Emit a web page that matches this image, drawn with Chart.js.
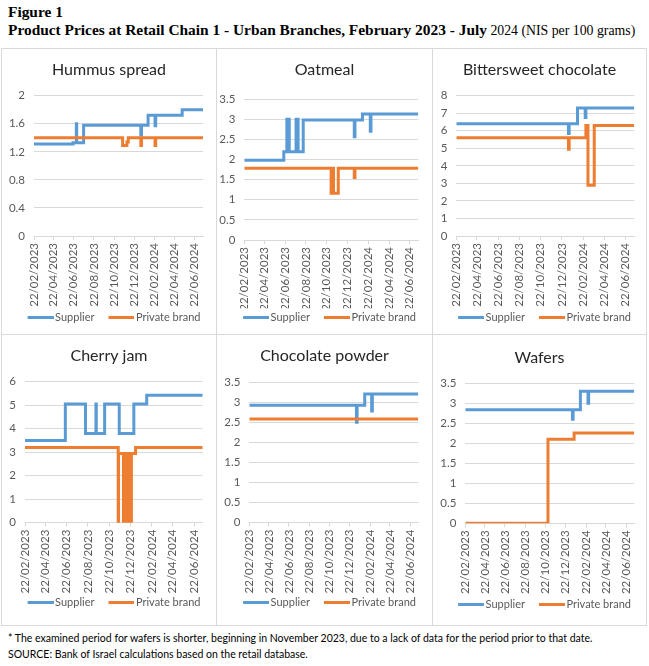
<!DOCTYPE html>
<html>
<head>
<meta charset="utf-8">
<script src="https://cdn.jsdelivr.net/npm/chart.js@4.4.0/dist/chart.umd.min.js"></script>
<style>
  body { margin: 0; background: #fff; width: 649px; height: 666px; position: relative; overflow: hidden; }
  .head { position: absolute; left: 8px; top: 3px; font-family: 'Liberation Serif', serif; color: #000; line-height: 18px; white-space: nowrap; }
  .panel { position: absolute; border: 1px solid #d9d9d9; box-sizing: border-box; }
  .panel canvas { position: absolute; left: 0; top: 0; }
  .note { position: absolute; left: 8px; top: 630px; font-family: Lato, sans-serif; font-size: 10.5px; line-height: 16px; color: #000; white-space: nowrap; }
</style>
</head>
<body>
<div class="head">
  <div style="font-weight:bold;font-size:15.4px">Figure 1</div>
  <div><b style="font-size:15.4px">Product Prices at Retail Chain 1 - Urban Branches, February 2023 - July</b><span style="font-size:13.8px"> 2024 (NIS per 100 grams)</span></div>
</div>

<div class="panel" id="p0"><canvas id="c0"></canvas></div>
<div class="panel" id="p1"><canvas id="c1"></canvas></div>
<div class="panel" id="p2"><canvas id="c2"></canvas></div>
<div class="panel" id="p3"><canvas id="c3"></canvas></div>
<div class="panel" id="p4"><canvas id="c4"></canvas></div>
<div class="panel" id="p5"><canvas id="c5"></canvas></div>

<div class="note">* The examined period for wafers is shorter, beginning in November 2023, due to a lack of data for the period prior to that date.<br>SOURCE: Bank of Israel calculations based on the retail database.</div>

<script>
'use strict';
var seriesNames = ['Supplier', 'Private brand'];
var tickLabels = ['22/02/2023', '22/04/2023', '22/06/2023', '22/08/2023', '22/10/2023', '22/12/2023', '22/02/2024', '22/04/2024', '22/06/2024'];
var firstDate = '22/02/2023';
var lastDate = '17/07/2024';

// prices change on these dates (NIS per 100 grams)
var hummusSupplierDates = ['22/02/2023', '20/06/2023', '30/06/2023', '01/07/2023', '22/07/2023', '11/01/2024', '13/01/2024', '02/02/2024', '23/02/2024', '25/02/2024', '15/05/2024', '17/07/2024'];
var hummusSupplierPrices = [1.31, 1.33, 1.60, 1.33, 1.58, 1.44, 1.58, 1.72, 1.57, 1.72, 1.80, 1.80];
var hummusPrivateDates = ['22/02/2023', '17/11/2023', '30/11/2023', '04/12/2023', '11/01/2024', '13/01/2024', '23/02/2024', '25/02/2024', '17/07/2024'];
var hummusPrivatePrices = [1.40, 1.29, 1.34, 1.40, 1.29, 1.40, 1.29, 1.40, 1.40];

var oatmealSupplierDates = ['22/02/2023', '18/06/2023', '27/06/2023', '04/07/2023', '24/07/2023', '30/07/2023', '14/08/2023', '11/01/2024', '13/01/2024', '04/02/2024', '27/02/2024', '29/02/2024', '17/07/2024'];
var oatmealSupplierPrices = [1.98, 2.19, 3.00, 2.19, 3.00, 2.19, 2.98, 2.56, 2.98, 3.13, 2.70, 3.13, 3.13];
var oatmealPrivateDates = ['22/02/2023', '04/11/2023', '08/11/2023', '11/11/2023', '25/11/2023', '11/01/2024', '13/01/2024', '17/07/2024'];
var oatmealPrivatePrices = [1.78, 1.16, 1.78, 1.16, 1.78, 1.55, 1.78, 1.78];

var chocolateSupplierDates = ['22/02/2023', '10/01/2024', '12/01/2024', '05/02/2024', '27/02/2024', '29/02/2024', '17/07/2024'];
var chocolateSupplierPrices = [6.40, 5.85, 6.40, 7.30, 6.75, 7.30, 7.30];
var chocolatePrivateDates = ['22/02/2023', '10/01/2024', '12/01/2024', '29/02/2024', '06/03/2024', '24/03/2024', '17/07/2024'];
var chocolatePrivatePrices = [5.60, 4.95, 5.60, 6.30, 2.90, 6.30, 6.30];

var jamSupplierDates = ['22/02/2023', '18/06/2023', '15/08/2023', '14/09/2023', '15/09/2023', '09/10/2023', '20/11/2023', '01/01/2024', '07/02/2024', '17/07/2024'];
var jamSupplierPrices = [3.50, 5.05, 3.80, 5.05, 3.80, 5.05, 3.80, 5.05, 5.42, 5.42];
var jamPrivateDates = ['22/02/2023', '17/11/2023', '18/11/2023', '02/12/2023', '04/12/2023', '06/12/2023', '08/12/2023', '10/12/2023', '12/12/2023', '14/12/2023', '16/12/2023', '18/12/2023', '20/12/2023', '22/12/2023', '25/12/2023', '06/01/2024', '17/07/2024'];
var jamPrivatePrices = [3.20, 0, 2.95, 0, 2.95, 0, 2.95, 0, 2.95, 0, 2.95, 0, 2.95, 0, 2.95, 3.20, 3.20];

var powderSupplierDates = ['22/02/2023', '12/01/2024', '14/01/2024', '06/02/2024', '27/02/2024', '29/02/2024', '17/07/2024'];
var powderSupplierPrices = [2.92, 2.50, 2.92, 3.20, 2.78, 3.20, 3.20];
var powderPrivateDates = ['22/02/2023', '17/07/2024'];
var powderPrivatePrices = [2.58, 2.58];

var wafersSupplierDates = ['22/02/2023', '12/01/2024', '14/01/2024', '05/02/2024', '28/02/2024', '01/03/2024', '17/07/2024'];
var wafersSupplierPrices = [2.84, 2.60, 2.84, 3.30, 3.00, 3.30, 3.30];
var wafersPrivateDates = ['22/02/2023', '30/10/2023', '17/01/2024', '17/07/2024'];
var wafersPrivatePrices = [0, 2.10, 2.26, 2.26];

var panels = [
  { title: 'Hummus spread', yMax: 2, yStep: 0.2, sup: [hummusSupplierDates, hummusSupplierPrices], priv: [hummusPrivateDates, hummusPrivatePrices] },
  { title: 'Oatmeal', yMax: 3.5, yStep: 0.5, sup: [oatmealSupplierDates, oatmealSupplierPrices], priv: [oatmealPrivateDates, oatmealPrivatePrices] },
  { title: 'Bittersweet chocolate', yMax: 8, yStep: 1, sup: [chocolateSupplierDates, chocolateSupplierPrices], priv: [chocolatePrivateDates, chocolatePrivatePrices] },
  { title: 'Cherry jam', yMax: 6, yStep: 1, sup: [jamSupplierDates, jamSupplierPrices], priv: [jamPrivateDates, jamPrivatePrices] },
  { title: 'Chocolate powder', yMax: 3.5, yStep: 0.5, sup: [powderSupplierDates, powderSupplierPrices], priv: [powderPrivateDates, powderPrivatePrices] },
  { title: 'Wafers', yMax: 3.5, yStep: 0.5, sup: [wafersSupplierDates, wafersSupplierPrices], priv: [wafersPrivateDates, wafersPrivatePrices] }
];

// page positions: panel box [x, y, w, h], plot area [left, right, top, bottom]
var layouts = [
  { box: [1, 48, 216, 287], plot: [34, 203, 95.7, 236], titleY: 70, legendY: 317.5 },
  { box: [216, 48, 217, 287], plot: [244.3, 418.3, 99, 240], titleY: 70, legendY: 317.7 },
  { box: [432, 48, 215, 287], plot: [456.3, 634.3, 95.7, 236], titleY: 70, legendY: 317.7 },
  { box: [1, 334, 216, 292], plot: [25, 202.7, 381.7, 522.7], titleY: 355.7, legendY: 602.7 },
  { box: [216, 334, 217, 292], plot: [249.3, 418.3, 382, 522.7], titleY: 355.7, legendY: 602.7 },
  { box: [432, 334, 215, 292], plot: [465.3, 634.3, 383.3, 523.3], titleY: 357.7, legendY: 604.3 }
];

var blue = '#5B9BD5';
var orange = '#ED7D31';
var tickFont = { family: 'Lato', size: 11.5 };

function dayNumber(s) {
  var p = s.split('/');
  var a = firstDate.split('/');
  var start = Date.UTC(+a[2], +a[1] - 1, +a[0]);
  return Math.round((Date.UTC(+p[2], +p[1] - 1, +p[0]) - start) / 86400000);
}

function toPoints(dates, prices) {
  return dates.map(function(d, i) {
    return { x: dayNumber(d), y: prices[i] };
  });
}

// legend sample: 26px line sitting close to its label, with a gap before it
function legendLine(color) {
  var c = document.createElement('canvas');
  c.width = 40;
  c.height = 3;
  var ctx = c.getContext('2d');
  ctx.fillStyle = color;
  ctx.fillRect(14, 0, 26, 3);
  return c;
}

var tickDays = tickLabels.map(dayNumber);

function drawPanel(i) {
  var p = panels[i];
  var g = layouts[i];
  var div = document.getElementById('p' + i);
  div.style.left = g.box[0] + 'px';
  div.style.top = g.box[1] + 'px';
  div.style.width = g.box[2] + 'px';
  div.style.height = g.box[3] + 'px';

  var cx = g.box[0] + 1, cy = g.box[1] + 1;
  var W = g.box[2] - 2, H = g.box[3] - 2;
  var canvas = document.getElementById('c' + i);
  canvas.width = W;
  canvas.height = H;

  var plotLeft = g.plot[0] - cx;
  var plotRight = W - (g.plot[1] - cx);
  var plotTop = g.plot[2] - cy;
  var plotBottom = g.plot[3] - cy;
  var titleSize = 16, titleLine = 19;
  var titlePadTop = g.titleY - cy - titleLine / 2;
  var legendFont = 11, legendPad = 4;
  var legendTop = g.legendY - cy - legendPad - legendFont / 2;
  var padBottom = H - legendTop - (legendFont + legendPad + 10);

  new Chart(canvas, {
    type: 'line',
    data: {
      datasets: [
        { label: seriesNames[0], data: toPoints(p.sup[0], p.sup[1]), borderColor: blue, backgroundColor: blue, borderWidth: 3, stepped: true, pointRadius: 0, pointStyle: legendLine(blue), fill: false, order: 1 },
        { label: seriesNames[1], data: toPoints(p.priv[0], p.priv[1]), borderColor: orange, backgroundColor: orange, borderWidth: 3, stepped: true, pointRadius: 0, pointStyle: legendLine(orange), fill: false, order: 0 }
      ]
    },
    options: {
      responsive: false,
      animation: false,
      events: [],
      layout: { padding: { left: 0, right: 0, top: 0, bottom: padBottom } },
      plugins: {
        title: {
          display: true, text: p.title, color: '#262626',
          font: { family: 'Lato', size: titleSize, weight: 'normal', lineHeight: titleLine / titleSize },
          padding: { top: titlePadTop, bottom: plotTop - titlePadTop - titleLine }
        },
        legend: {
          position: 'bottom',
          labels: {
            usePointStyle: true, pointStyleWidth: 32,
            color: '#595959', font: { family: 'Lato', size: legendFont }, padding: legendPad,
            sort: function(a, b) { return a.datasetIndex - b.datasetIndex; }
          }
        },
        tooltip: { enabled: false }
      },
      scales: {
        x: {
          type: 'linear',
          min: dayNumber(firstDate),
          max: dayNumber(lastDate),
          afterBuildTicks: function(scale) {
            scale.ticks = tickDays.map(function(v) { return { value: v }; });
          },
          afterFit: function(scale) { scale.height = legendTop - plotBottom; },
          ticks: {
            autoSkip: false, minRotation: 90, maxRotation: 90, padding: 3,
            color: '#595959', font: tickFont,
            callback: function(v) { return tickLabels[tickDays.indexOf(v)]; }
          },
          grid: { drawOnChartArea: false, drawTicks: true, tickLength: 4, color: '#d9d9d9' },
          border: { color: '#d9d9d9' }
        },
        y: {
          min: 0,
          max: p.yMax,
          afterFit: function(scale) { scale.width = plotLeft; },
          ticks: {
            stepSize: p.yStep, padding: 9, color: '#595959', font: tickFont,
            callback: function(v) { return String(Number(v.toFixed(1))); }
          },
          grid: { color: '#d9d9d9', drawTicks: false },
          border: { display: false }
        },
        // empty right-hand axis: keeps the plot's right margin while title and legend stay centred on the panel
        gap: {
          position: 'right',
          afterFit: function(scale) { scale.width = plotRight; },
          ticks: { display: false },
          grid: { display: false, drawTicks: false },
          border: { display: false }
        }
      }
    }
  });
}

for (var i = 0; i < panels.length; i++) {
  drawPanel(i);
}
</script>
</body>
</html>
